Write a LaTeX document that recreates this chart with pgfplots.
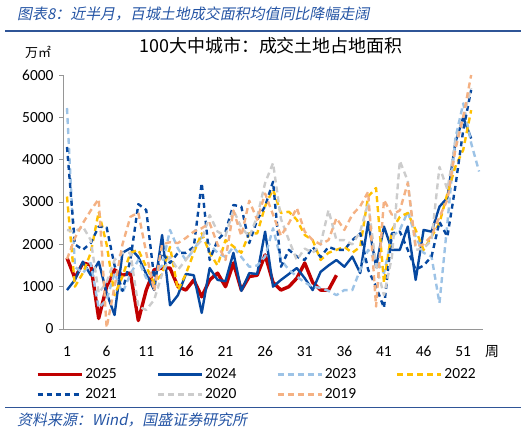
\documentclass[border=0pt]{standalone}
\usepackage{fontspec}
\setmainfont{Carlito}
\newfontfamily\cjk{Noto Sans CJK SC}
\newfontfamily\cjkit[FakeSlant=0.2]{Noto Sans CJK SC}
\usepackage{pgfplots}
\pgfplotsset{compat=1.18}
\definecolor{c25}{RGB}{192,0,0}
\definecolor{c24}{RGB}{6,72,160}
\definecolor{c23}{RGB}{157,195,230}
\definecolor{c22}{RGB}{255,192,0}
\definecolor{c21}{RGB}{6,72,160}
\definecolor{c20}{RGB}{204,204,204}
\definecolor{c19}{RGB}{244,177,131}
\definecolor{hdr}{RGB}{36,84,164}
\definecolor{rulec}{RGB}{47,85,151}
\definecolor{axgray}{RGB}{150,150,150}
\begin{document}
\begin{tikzpicture}[x=1bp,y=1bp]
\path[use as bounding box] (0,0) rectangle (526,432);
\node[anchor=west,text=hdr,font=\fontsize{15}{17}\selectfont\cjkit,inner sep=0] at (17,418) {图表\textit{8}：近半月，百城土地成交面积均值同比降幅走阔};
\draw[rulec,line width=1.6bp] (5,401) -- (521,401);
\draw[rulec,line width=1bp] (5,25) -- (521,25);
\node[anchor=west,text=hdr,font=\fontsize{15}{17}\selectfont\cjkit,inner sep=0] at (17,12) {资料来源：\textit{Wind}，国盛证券研究所};
\node[font=\fontsize{18}{20}\selectfont\cjk,inner sep=0] at (271,386) {100大中城市：成交土地占地面积};
\node[font=\fontsize{13}{15}\selectfont\cjk,inner sep=0] at (38,380) {万㎡};
\begin{axis}[
  at={(63.04bp,103bp)}, anchor=origin,
  scale only axis, width=420bp, height=254bp,
  xmin=0.5, xmax=53.5, ymin=0, ymax=6000,
  axis lines*=left,
  axis line style={draw=axgray,line width=0.8bp},
  xtick={1,6,...,51}, ytick={0,1000,...,6000},
  tick align=outside, major tick length=4bp,
  ytick style={draw=axgray,line width=0.6bp},
  xtick style={draw=none},
  ticklabel style={font=\fontsize{15.5}{18}\selectfont},
  /pgf/number format/assume math mode=true,
  /pgf/number format/1000 sep={},
  xticklabel style={yshift=-10bp},
  yticklabel style={xshift=-2bp},
  clip=false,
  legend columns=4,
  legend cell align=left,
  legend style={draw=none,fill=none,at={(-0.072,-0.14)},anchor=north west,
    font=\fontsize{15.5}{18}\selectfont,
    /tikz/every even column/.append style={column sep=38bp},
    row sep=4.5bp},
  legend image code/.code={\draw[#1] (0bp,0bp) -- (44bp,0bp);},
  every axis plot/.append style={line join=round},
]
\addplot[c25,line width=3.4bp] coordinates {
(1,1680)(2,1200)(3,1560)(4,1510)(5,250)(6,1000)(7,1400)(8,1270)(9,1320)(10,200)
(11,920)(12,1400)(13,1440)(14,1440)(15,1000)(16,920)(17,1160)(18,760)(19,1160)(20,1320)
(21,1000)(22,1560)(23,920)(24,1240)(25,1270)(26,1750)(27,1100)(28,920)(29,1000)(30,1200)
(31,1560)(32,1100)(33,920)(34,920)(35,1270)};
\addlegendentry{2025}
\addplot[c24,line width=2.4bp] coordinates {
(1,920)(2,1160)(3,1590)(4,1270)(5,1590)(6,850)(7,330)(8,1800)(9,1910)(10,1700)
(11,1300)(12,920)(13,2220)(14,560)(15,800)(16,1300)(17,1270)(18,380)(19,1440)(20,1160)
(21,1130)(22,1800)(23,900)(24,1320)(25,1300)(26,2300)(27,1000)(28,1160)(29,1300)(30,1440)
(31,1200)(32,920)(33,1350)(34,1500)(35,1630)(36,1470)(37,1710)(38,1320)(39,2530)(40,1470)
(41,2420)(42,1870)(43,1870)(44,2420)(45,1160)(46,2340)(47,2300)(48,2890)(49,3100)(50,4400)
(51,5000)(52,4500)};
\addlegendentry{2024}
\addplot[c23,line width=2.4bp,dash pattern=on 6bp off 4bp] coordinates {
(1,5220)(2,1470)(3,1320)(4,1560)(5,500)(6,690)(7,1320)(8,850)(9,1300)(10,1630)
(11,1200)(12,1300)(13,1500)(14,2340)(15,1900)(16,1630)(17,1870)(18,2180)(19,2000)(20,1800)
(21,1700)(22,1940)(23,1700)(24,1470)(25,1500)(26,1710)(27,2380)(28,1630)(29,1400)(30,1240)
(31,1100)(32,1000)(33,970)(34,900)(35,800)(36,920)(37,920)(38,1400)(39,1870)(40,1600)
(41,1320)(42,2180)(43,2340)(44,2770)(45,2180)(46,1800)(47,1710)(48,610)(49,2500)(50,4500)
(51,5330)(52,4390)(53,3720)};
\addlegendentry{2023}
\addplot[c22,line width=2.4bp,dash pattern=on 6bp off 4bp] coordinates {
(1,3130)(2,1000)(3,1320)(4,1800)(5,2770)(6,2000)(7,800)(8,1240)(9,1800)(10,1870)
(11,1470)(12,1090)(13,1300)(14,1940)(15,920)(16,1300)(17,1800)(18,2260)(19,1800)(20,1500)
(21,2100)(22,1950)(23,1800)(24,2260)(25,2260)(26,2900)(27,3300)(28,2740)(29,2770)(30,2580)
(31,2220)(32,2100)(33,1630)(34,1800)(35,1870)(36,1940)(37,1800)(38,1940)(39,3130)(40,3330)
(41,1090)(42,2340)(43,2650)(44,2740)(45,2340)(46,1870)(47,2180)(48,2500)(49,3200)(50,3830)
(51,4230)(52,5170)};
\addlegendentry{2022}
\addplot[c21,line width=2.4bp,dash pattern=on 5bp off 4bp] coordinates {
(1,4300)(2,2000)(3,1870)(4,2030)(5,2420)(6,2400)(7,1500)(8,900)(9,1630)(10,2950)
(11,2810)(12,1200)(13,1800)(14,1560)(15,1800)(16,1800)(17,1940)(18,3450)(19,1630)(20,2100)
(21,2300)(22,2930)(23,2890)(24,2030)(25,2580)(26,2900)(27,3480)(28,1470)(29,1870)(30,1710)
(31,1630)(32,1940)(33,1700)(34,1940)(35,1870)(36,1870)(37,2100)(38,2260)(39,1400)(40,1000)
(41,500)(42,2260)(43,2300)(44,1870)(45,1400)(46,1500)(47,1710)(48,2530)(49,2180)(50,3360)
(51,4700)(52,5650)};
\addlegendentry{2021}
\addplot[c20,line width=2.4bp,dash pattern=on 6bp off 4bp] coordinates {
(1,2340)(2,2300)(3,2420)(4,2100)(5,850)(6,1100)(7,1630)(8,1800)(9,1800)(10,530)
(11,450)(12,690)(13,1300)(14,1700)(15,1400)(16,1630)(17,1900)(18,2100)(19,2690)(20,2300)
(21,2200)(22,2810)(23,2400)(24,2180)(25,2650)(26,3450)(27,3920)(28,2600)(29,2100)(30,1630)
(31,1900)(32,1800)(33,2000)(34,2810)(35,2100)(36,2100)(37,2000)(38,2300)(39,2980)(40,1500)
(41,800)(42,1700)(43,3970)(44,3500)(45,1870)(46,1900)(47,2100)(48,3830)(49,3300)(50,4390)
(51,5000)(52,5690)};
\addlegendentry{2020}
\addplot[c19,line width=2.4bp,dash pattern=on 6bp off 4bp] coordinates {
(1,1650)(2,2150)(3,2500)(4,2800)(5,3070)(6,30)(7,1000)(8,2000)(9,2650)(10,2750)
(11,1800)(12,900)(13,2000)(14,2050)(15,2030)(16,2150)(17,2300)(18,2380)(19,2500)(20,2000)
(21,1630)(22,2800)(23,2200)(24,3030)(25,2580)(26,3200)(27,2700)(28,2200)(29,2500)(30,2860)
(31,2300)(32,2100)(33,2000)(34,2100)(35,2620)(36,2340)(37,2700)(38,2900)(39,3240)(40,530)
(41,3050)(42,2700)(43,2800)(44,3450)(45,1940)(46,2000)(47,2200)(48,2650)(49,3050)(50,4230)
(51,5010)(52,6000)};
\addlegendentry{2019}
\node[font=\fontsize{14}{16}\selectfont\cjk,anchor=west,inner sep=0] at (rel axis cs:1,0) [xshift=2bp,yshift=-23bp] {周};
\end{axis}
\end{tikzpicture}
\end{document}
